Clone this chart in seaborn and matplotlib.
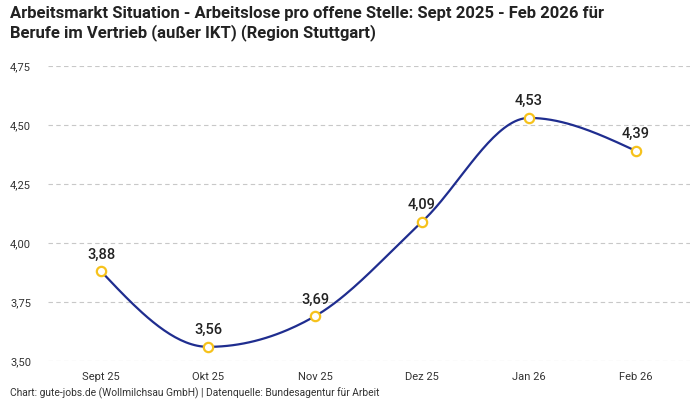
import numpy as np
import pandas as pd
import matplotlib
matplotlib.use("Agg")
import matplotlib.pyplot as plt
import seaborn as sns

categories = ["Sept 25", "Okt 25", "Nov 25", "Dez 25", "Jan 26", "Feb 26"]
values = [3.88, 3.56, 3.69, 4.09, 4.53, 4.39]
y_ticks = [3.50, 3.75, 4.00, 4.25, 4.50, 4.75]

title = ("Arbeitsmarkt Situation - Arbeitslose pro offene Stelle: Sept 2025 - Feb 2026 für\n"
         "Berufe im Vertrieb (außer IKT) (Region Stuttgart)")
footer = "Chart: gute-jobs.de (Wollmilchsau GmbH) | Datenquelle: Bundesagentur für Arbeit"

sns.set_theme(style="white")
plt.rcParams['font.family'] = ['Roboto', 'DejaVu Sans']

def monotone_curve(x, y, n=40):
    x = np.asarray(x, float); y = np.asarray(y, float)
    h = np.diff(x); d = np.diff(y) / h
    m = np.zeros_like(y)
    for i in range(1, len(y) - 1):
        if d[i-1] * d[i] <= 0:
            m[i] = 0
        else:
            p = (d[i-1] * h[i] + d[i] * h[i-1]) / (h[i-1] + h[i])
            m[i] = (np.sign(d[i-1]) + np.sign(d[i])) * min(abs(d[i-1]), abs(d[i]), 0.5 * abs(p))
    m[0] = (3 * d[0] - m[1]) / 2
    m[-1] = (3 * d[-1] - m[-2]) / 2
    xs, ys = [], []
    for i in range(len(x) - 1):
        t = np.linspace(0, 1, n)
        h00 = 2*t**3 - 3*t**2 + 1; h10 = t**3 - 2*t**2 + t
        h01 = -2*t**3 + 3*t**2; h11 = t**3 - t**2
        xs.append(x[i] + t * h[i])
        ys.append(h00*y[i] + h10*h[i]*m[i] + h01*y[i+1] + h11*h[i]*m[i+1])
    return np.concatenate(xs), np.concatenate(ys)

df = pd.DataFrame({"cat": categories, "val": values, "pos": np.arange(len(categories))})
cx, cy = monotone_curve(df["pos"], df["val"])
curve = pd.DataFrame({"x": cx, "y": cy})

fig = plt.figure(figsize=(7, 4), dpi=100)
ax = fig.add_axes([0.068, 0.0975, 0.917, 0.7375])

for t in y_ticks:
    ax.axhline(t, color="#c8c8c8", lw=0.8, ls=(0, (4, 3)), zorder=0)

sns.lineplot(data=curve, x="x", y="y", ax=ax, color="#1f2d8f", lw=1.6, sort=False, zorder=2)
sns.scatterplot(data=df, x="pos", y="val", ax=ax, s=45, color="white",
                edgecolor="#f6c21c", linewidth=1.6, zorder=3)

for p, v in zip(df["pos"], df["val"]):
    ax.annotate(f"{v:.2f}".replace(".", ","), (p, v), xytext=(0, 7), textcoords="offset points",
                ha="center", va="bottom", fontsize=10.5, fontweight="medium", color="#222222")

ax.set_xlim(-0.5, len(categories) - 0.5)
ax.set_ylim(3.5, 4.75)
ax.set_xticks(df["pos"])
ax.set_xticklabels(categories)
ax.set_yticks(y_ticks)
ax.set_yticklabels([f"{t:.2f}".replace(".", ",") for t in y_ticks])
ax.tick_params(axis="both", length=0, labelsize=8, colors="#333333")
ax.tick_params(axis="y", pad=27)
ax.tick_params(axis="x", pad=8)
ax.set_xlabel(""); ax.set_ylabel("")
for s in ax.spines.values():
    s.set_visible(False)
for lbl in ax.get_yticklabels():
    lbl.set_horizontalalignment("left")

fig.text(0.014, 0.985, title, ha="left", va="top", fontsize=12, fontweight="bold",
         color="#222222", family=["Liberation Sans Narrow", "Roboto", "DejaVu Sans"], linespacing=1.2)
fig.text(0.014, 0.017, footer, ha="left", va="center", fontsize=7.4, color="#333333")

fig.savefig("out.png", dpi=100)
